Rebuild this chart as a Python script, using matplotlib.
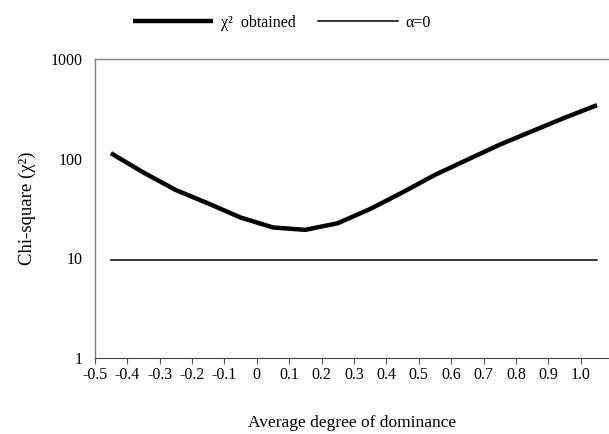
import matplotlib
matplotlib.use("Agg")
import matplotlib.pyplot as plt
import matplotlib.ticker as mticker

# average degree of dominance and chi-square values
dominance = [-0.45, -0.35, -0.25, -0.15, -0.05, 0.05, 0.15, 0.25,
             0.35, 0.45, 0.55, 0.65, 0.75, 0.85, 0.95, 1.05]
chi2_obtained = [114, 73, 48.6, 35.6, 25.7, 20.4, 19.3, 22.5,
                 31.3, 46, 69, 98, 139, 190, 259, 347]
alpha0 = [9.6] * len(dominance)

x_ticks = [-0.5, -0.4, -0.3, -0.2, -0.1, 0, 0.1, 0.2, 0.3, 0.4,
           0.5, 0.6, 0.7, 0.8, 0.9, 1.0]
x_labels = ["-0.5", "-0.4", "-0.3", "-0.2", "-0.1", "0", "0.1", "0.2", "0.3",
            "0.4", "0.5", "0.6", "0.7", "0.8", "0.9", "1.0"]
y_ticks = [1, 10, 100, 1000]

plt.rcParams['font.family'] = ['Liberation Serif', 'DejaVu Serif']

fig = plt.figure(figsize=(6.09, 4.34), dpi=100)
ax = fig.add_axes([0.1555, 0.176, 0.8445, 0.687])

ax.plot(dominance, chi2_obtained, color='black', linewidth=3.2,
        solid_capstyle='butt', solid_joinstyle='round', label='χ²  obtained')
ax.plot(dominance, alpha0, color='black', linewidth=1.1, label='α=0')

ax.set_yscale('log')
ax.set_ylim(1, 1000)
ax.set_xlim(-0.5, 1.087)
ax.yaxis.set_major_locator(mticker.FixedLocator(y_ticks))
ax.yaxis.set_major_formatter(mticker.FixedFormatter([str(v) for v in y_ticks]))
ax.yaxis.set_minor_locator(mticker.NullLocator())
ax.tick_params(axis='y', length=0, pad=9, labelsize=11.5)

ax.set_xticks(x_ticks)
ax.set_xticklabels(x_labels)
ax.tick_params(axis='x', direction='out', length=4, width=0.8,
               color='#555555', pad=3, labelsize=11.5)

for side in ['left', 'top']:
    ax.spines[side].set_color('#808080')
    ax.spines[side].set_linewidth(1.0)
ax.spines['bottom'].set_color('#444444')
ax.spines['right'].set_visible(False)

ax.set_xlabel('Average degree of dominance', fontsize=12.5, labelpad=23)
ax.set_ylabel('Chi-square (χ²)', fontsize=13.5, labelpad=10)

fig.legend(loc='center', bbox_to_anchor=(0.463, 0.947), ncol=2, frameon=False,
           fontsize=11.5, handlelength=5.0, columnspacing=1.4, handletextpad=0.5)

fig.savefig('out.png', dpi=100)
